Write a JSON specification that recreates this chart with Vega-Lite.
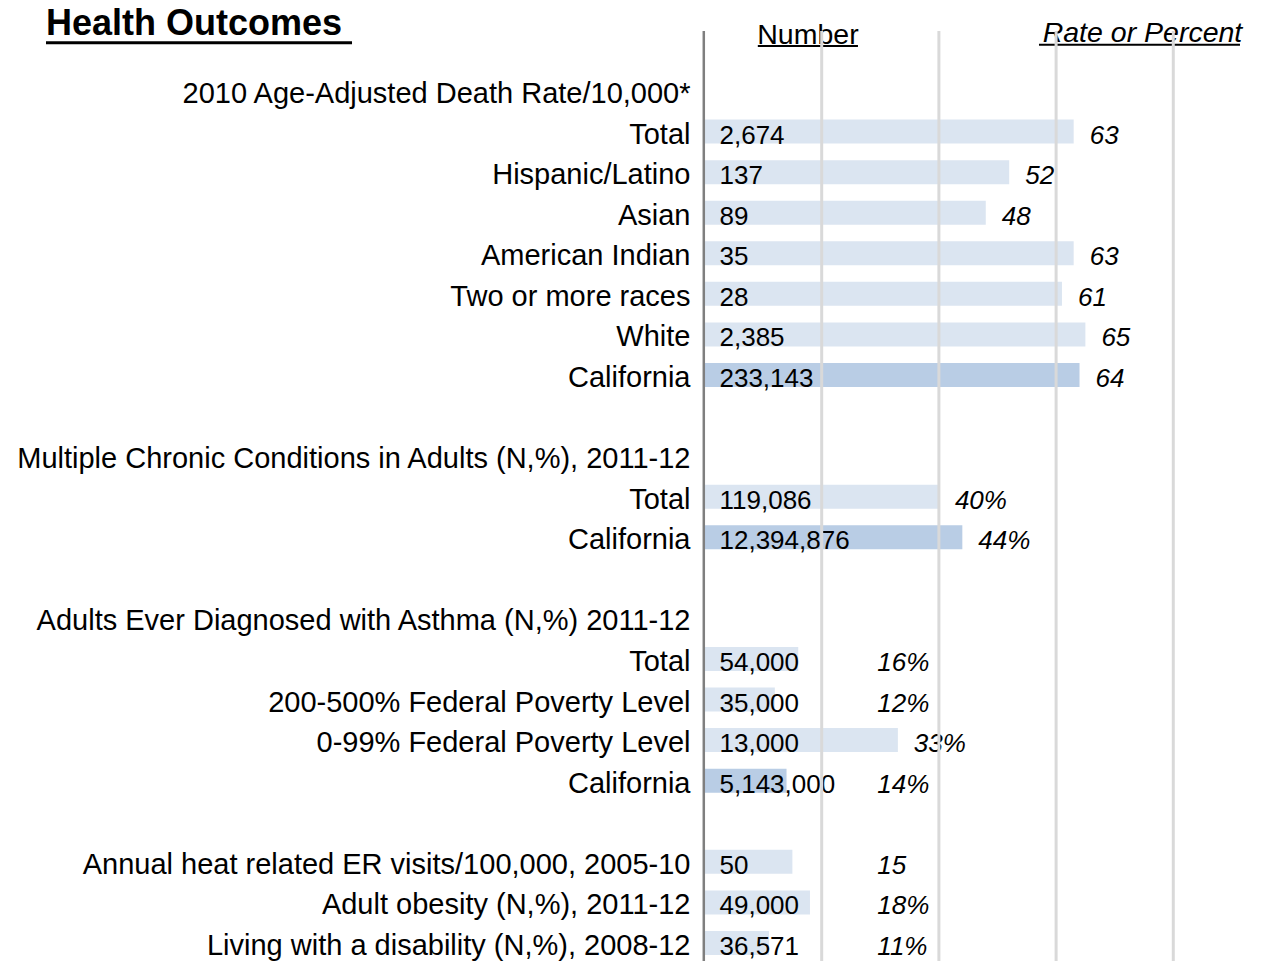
{
  "$schema": "https://vega.github.io/schema/vega-lite/v6.json",
  "width": 1266,
  "height": 961,
  "padding": 0,
  "autosize": {"type": "none"},
  "background": "white",
  "config": {"view": {"stroke": null}, "text": {"font": "Liberation Sans"}},
  "datasets": {
    "rows": [
      {"r": 0, "kind": "header", "label": "2010 Age-Adjusted Death Rate/10,000*"},
      {"r": 1, "kind": "item", "label": "Total", "num": "2,674", "rate": 63, "rateText": "63"},
      {"r": 2, "kind": "item", "label": "Hispanic/Latino", "num": "137", "rate": 52, "rateText": "52"},
      {"r": 3, "kind": "item", "label": "Asian", "num": "89", "rate": 48, "rateText": "48"},
      {"r": 4, "kind": "item", "label": "American Indian", "num": "35", "rate": 63, "rateText": "63"},
      {"r": 5, "kind": "item", "label": "Two or more races", "num": "28", "rate": 61, "rateText": "61"},
      {"r": 6, "kind": "item", "label": "White", "num": "2,385", "rate": 65, "rateText": "65"},
      {"r": 7, "kind": "item", "label": "California", "num": "233,143", "rate": 64, "rateText": "64"},
      {"r": 9, "kind": "header", "label": "Multiple Chronic Conditions in Adults (N,%), 2011-12"},
      {"r": 10, "kind": "item", "label": "Total", "num": "119,086", "rate": 40, "rateText": "40%"},
      {"r": 11, "kind": "item", "label": "California", "num": "12,394,876", "rate": 44, "rateText": "44%"},
      {"r": 13, "kind": "header", "label": "Adults Ever Diagnosed with Asthma (N,%) 2011-12"},
      {"r": 14, "kind": "item", "label": "Total", "num": "54,000", "rate": 16, "rateText": "16%"},
      {"r": 15, "kind": "item", "label": "200-500% Federal Poverty Level", "num": "35,000", "rate": 12, "rateText": "12%"},
      {"r": 16, "kind": "item", "label": "0-99% Federal Poverty Level", "num": "13,000", "rate": 33, "rateText": "33%"},
      {"r": 17, "kind": "item", "label": "California", "num": "5,143,000", "rate": 14, "rateText": "14%"},
      {"r": 19, "kind": "item", "label": "Annual heat related ER visits/100,000, 2005-10", "num": "50", "rate": 15, "rateText": "15"},
      {"r": 20, "kind": "item", "label": "Adult obesity (N,%), 2011-12", "num": "49,000", "rate": 18, "rateText": "18%"},
      {"r": 21, "kind": "item", "label": "Living with a disability (N,%), 2008-12", "num": "36,571", "rate": 11, "rateText": "11%"}
    ],
    "grid": [{"g": 20}, {"g": 40}, {"g": 60}, {"g": 80}],
    "one": [{"k": 1}]
  },
  "data": {"name": "rows"},
  "resolve": {"scale": {"x": "shared", "y": "shared"}},
  "layer": [
    {
      "transform": [{"filter": "datum.kind === 'item'"}],
      "mark": {"type": "bar", "orient": "horizontal", "size": 24, "yOffset": -1},
      "encoding": {
        "x": {"field": "rate", "type": "quantitative", "scale": {"domain": [-120.22, 95.82], "nice": false, "zero": false, "padding": 0}, "axis": null},
        "x2": {"datum": 0},
        "y": {"field": "r", "type": "quantitative", "scale": {"domain": [-2.268, 21.42], "reverse": true, "nice": false, "zero": false, "padding": 0}, "axis": null},
        "color": {"condition": {"test": "datum.label === 'California'", "value": "#b9cde5"}, "value": "#dbe5f1"}
      }
    },
    {
      "mark": {"type": "text", "align": "right", "baseline": "middle", "dx": -14, "dy": 2, "fontSize": 29, "font": "Liberation Sans", "color": "#000000"},
      "encoding": {
        "x": {"datum": 0, "type": "quantitative"},
        "y": {"field": "r", "type": "quantitative"},
        "text": {"field": "label"}
      }
    },
    {
      "transform": [{"filter": "datum.kind === 'item'"}],
      "mark": {"type": "text", "align": "left", "baseline": "middle", "dx": 15, "dy": 3, "fontSize": 26, "font": "Liberation Sans", "color": "#000000"},
      "encoding": {
        "x": {"datum": 0, "type": "quantitative"},
        "y": {"field": "r", "type": "quantitative"},
        "text": {"field": "num"}
      }
    },
    {
      "transform": [{"filter": "datum.kind === 'item' && datum.rate >= 30"}],
      "mark": {"type": "text", "align": "left", "baseline": "middle", "dx": 16, "dy": 3, "fontSize": 26, "fontStyle": "italic", "font": "Liberation Sans", "color": "#000000"},
      "encoding": {
        "x": {"field": "rate", "type": "quantitative"},
        "y": {"field": "r", "type": "quantitative"},
        "text": {"field": "rateText"}
      }
    },
    {
      "transform": [{"filter": "datum.kind === 'item' && datum.rate < 30"}],
      "mark": {"type": "text", "align": "left", "baseline": "middle", "dy": 3, "fontSize": 26, "fontStyle": "italic", "font": "Liberation Sans", "color": "#000000"},
      "encoding": {
        "x": {"datum": 29.5, "type": "quantitative"},
        "y": {"field": "r", "type": "quantitative"},
        "text": {"field": "rateText"}
      }
    },
    {
      "data": {"name": "one"},
      "mark": {"type": "text", "align": "left", "baseline": "middle", "fontSize": 36, "fontWeight": "bold", "font": "Liberation Sans", "color": "#000000", "text": "Health Outcomes"},
      "encoding": {
        "x": {"datum": -112.37, "type": "quantitative"},
        "y": {"datum": -1.676, "type": "quantitative"}
      }
    },
    {
      "data": {"name": "one"},
      "mark": {"type": "rule", "strokeWidth": 3, "color": "#000000"},
      "encoding": {
        "x": {"datum": -112.37, "type": "quantitative"},
        "x2": {"datum": -60.15},
        "y": {"datum": -1.212, "type": "quantitative"}
      }
    },
    {
      "data": {"name": "one"},
      "mark": {"type": "text", "align": "center", "baseline": "middle", "fontSize": 28.5, "font": "Liberation Sans", "color": "#000000", "text": "Number"},
      "encoding": {
        "x": {"datum": 17.66, "type": "quantitative"},
        "y": {"datum": -1.405, "type": "quantitative"}
      }
    },
    {
      "data": {"name": "one"},
      "mark": {"type": "rule", "strokeWidth": 2, "color": "#000000"},
      "encoding": {
        "x": {"datum": 9.1, "type": "quantitative"},
        "x2": {"datum": 26.19},
        "y": {"datum": -1.134, "type": "quantitative"}
      }
    },
    {
      "data": {"name": "one"},
      "mark": {"type": "text", "align": "center", "baseline": "middle", "fontSize": 28.5, "fontStyle": "italic", "font": "Liberation Sans", "color": "#000000", "text": "Rate or Percent"},
      "encoding": {
        "x": {"datum": 74.74, "type": "quantitative"},
        "y": {"datum": -1.457, "type": "quantitative"}
      }
    },
    {
      "data": {"name": "one"},
      "mark": {"type": "rule", "strokeWidth": 2, "color": "#000000"},
      "encoding": {
        "x": {"datum": 57.08, "type": "quantitative"},
        "x2": {"datum": 91.38},
        "y": {"datum": -1.166, "type": "quantitative"}
      }
    },
    {
      "data": {"name": "grid"},
      "mark": {"type": "rule", "strokeWidth": 3, "color": "#d9d9d9"},
      "encoding": {
        "x": {"field": "g", "type": "quantitative"},
        "y": {"datum": -1.504, "type": "quantitative"},
        "y2": {"datum": 21.42}
      }
    },
    {
      "data": {"name": "one"},
      "mark": {"type": "rule", "strokeWidth": 2.5, "color": "#7f7f7f"},
      "encoding": {
        "x": {"datum": -0.12, "type": "quantitative"},
        "y": {"datum": -1.504, "type": "quantitative"},
        "y2": {"datum": 21.42}
      }
    }
  ]
}
